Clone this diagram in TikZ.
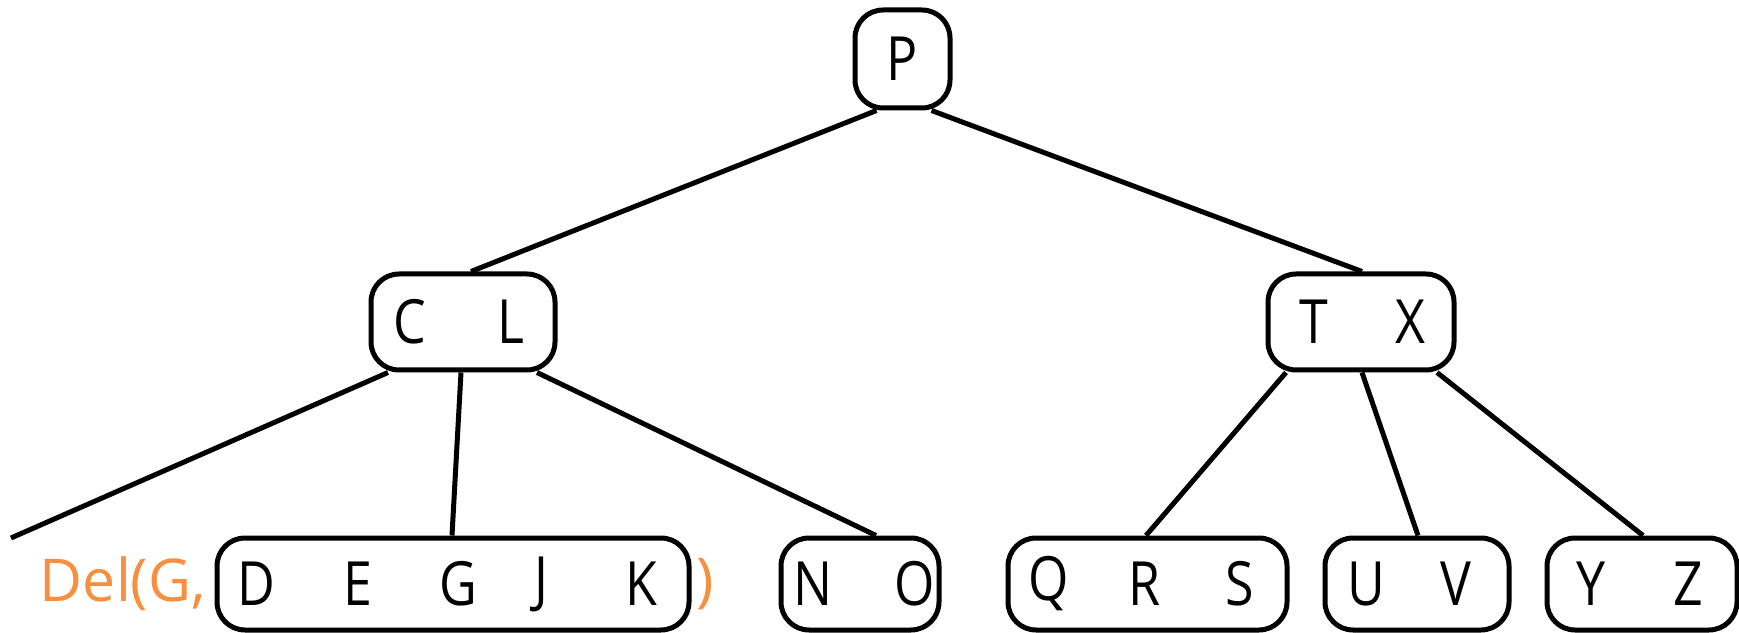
\documentclass[tikz,border=0pt]{standalone}
\usepackage{fontspec}
\setmainfont{Open Sans}[FakeStretch=0.85]
\newfontfamily\delfont{Open Sans}
\definecolor{delorange}{RGB}{247,143,64}
\begin{document}
\begin{tikzpicture}[x=1pt,y=1pt,
  keybox/.style={draw=black,line width=5pt,rounded corners=28pt,inner sep=0pt},
  key/.style={inner sep=0pt,font=\fontsize{61}{64}\selectfont},
  delkey/.style={inner sep=0pt,text=delorange,font=\delfont\fontsize{59}{62}\selectfont},
  edge/.style={line width=5pt}]
\useasboundingbox (0,0) rectangle (1739,632);
% boxes
\node[keybox,minimum width=95pt,minimum height=98pt] (P) at (902.5,573) {};
\node[keybox,minimum width=184pt,minimum height=96pt] (CL) at (463,310) {};
\node[keybox,minimum width=186pt,minimum height=96pt] (TX) at (1361,310) {};
\node[keybox,minimum width=472pt,minimum height=92pt] (DK) at (453,48) {};
\node[keybox,minimum width=158pt,minimum height=92pt] (NO) at (860,48) {};
\node[keybox,minimum width=279pt,minimum height=92pt] (QS) at (1147.5,48) {};
\node[keybox,minimum width=184pt,minimum height=92pt] (UV) at (1417,48) {};
\node[keybox,minimum width=190pt,minimum height=92pt] (YZ) at (1642,48) {};
% letters
\node[key] (kP) at (902.5,573) {P};
\node[key] (kC) at (410,310) {C};
\node[key] (kL) at (511,310) {L};
\node[key] (kT) at (1314,310) {T};
\node[key] (kX) at (1410,310) {X};
\node[key] (kD) at (256,48) {D};
\node[key] (kE) at (358,48) {E};
\node[key] (kG) at (458,48) {G};
\node[key] (kJ) at (541,48) {J};
\node[key] (kK) at (641,48) {K};
\node[key] (kN) at (813,48) {N};
\node[key] (kO) at (915,48) {O};
\node[key] (kQ) at (1049,48) {Q};
\node[key] (kR) at (1145,48) {R};
\node[key] (kS) at (1240,48) {S};
\node[key] (kU) at (1366,48) {U};
\node[key] (kV) at (1456,48) {V};
\node[key] (kY) at (1591,48) {Y};
\node[key] (kZ) at (1688,48) {Z};
% orange call
\node[delkey,anchor=east] (del) at (206,48) {Del(G,};
\node[delkey] (close) at (705,48) {)};
% connectors
\coordinate (free) at (11,94);
\draw[edge] ([xshift=-26pt]P.south) -- ([xshift=8pt]CL.north);
\draw[edge] ([xshift=29pt]P.south) -- ([xshift=1pt]TX.north);
\draw[edge] ([xshift=-75pt]CL.south) -- (free);
\draw[edge] ([xshift=-2pt]CL.south) -- ([xshift=-1pt]DK.north);
\draw[edge] ([xshift=74pt]CL.south) -- ([xshift=16pt]NO.north);
\draw[edge] ([xshift=-75pt]TX.south) -- ([xshift=-1.5pt]QS.north);
\draw[edge] ([xshift=1pt]TX.south) -- ([xshift=1pt]UV.north);
\draw[edge] ([xshift=76pt]TX.south) -- ([xshift=1pt]YZ.north);
\end{tikzpicture}
\end{document}
